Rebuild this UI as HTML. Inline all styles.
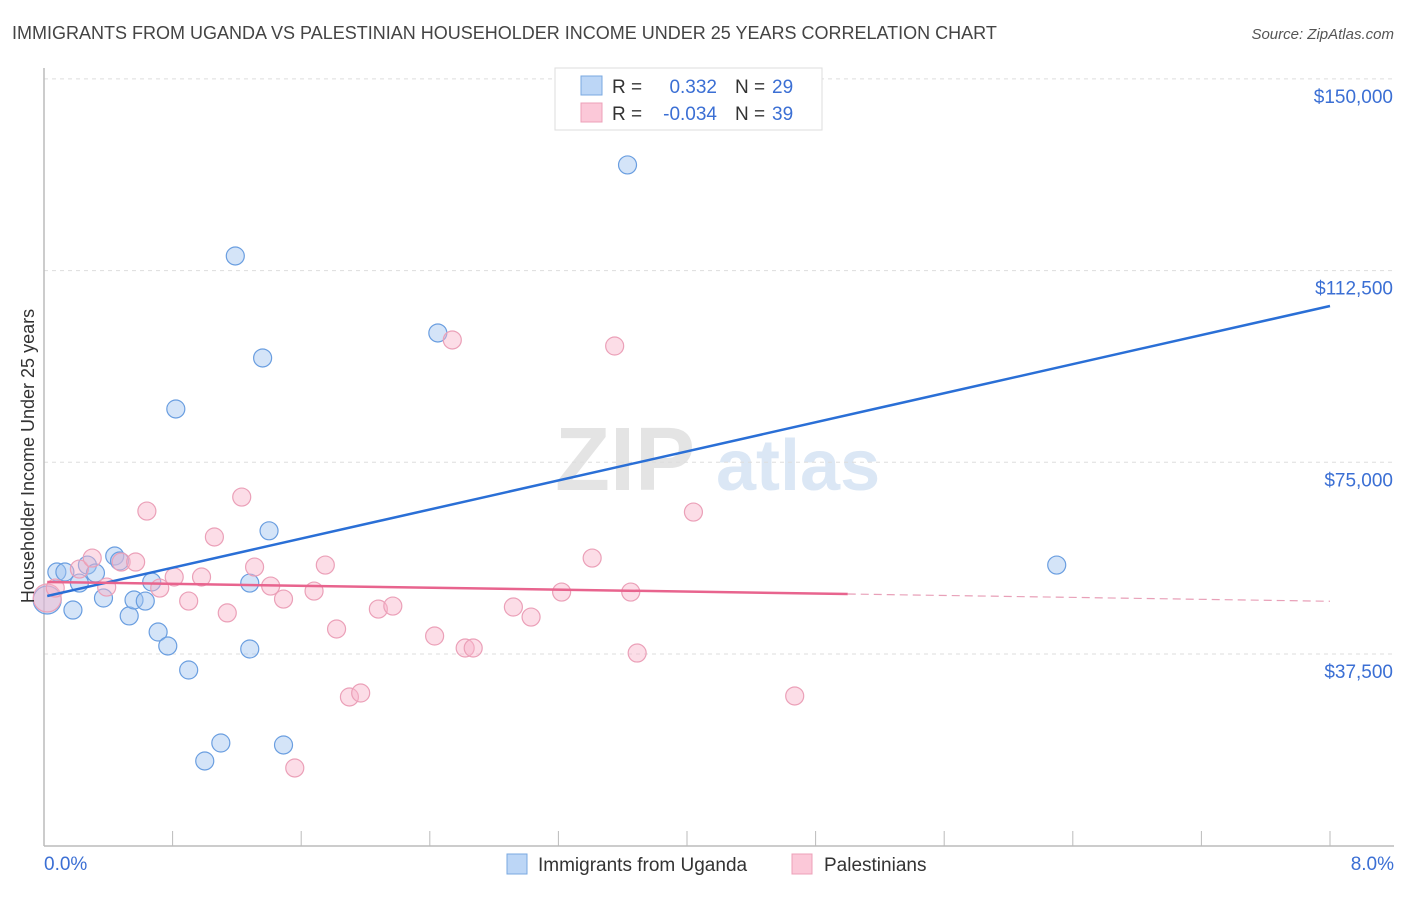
<!DOCTYPE html>
<html><head><meta charset="utf-8">
<style>
body{margin:0;background:#fff;font-family:"Liberation Sans",sans-serif;}
svg text{font-family:"Liberation Sans",sans-serif;}
</style></head>
<body>
<svg id="chart" width="1406" height="892" xmlns="http://www.w3.org/2000/svg">
<text x="12" y="39" font-size="18" fill="#444">IMMIGRANTS FROM UGANDA VS PALESTINIAN HOUSEHOLDER INCOME UNDER 25 YEARS CORRELATION CHART</text>
<text x="1394" y="39" font-size="15" fill="#555" font-style="italic" text-anchor="end">Source: ZipAtlas.com</text>
<g>
<text x="555" y="490" font-size="90" fill="#e4e4e4" font-family="Liberation Serif" font-weight="bold">ZIP</text>
<text x="716" y="490" font-size="72" fill="#dbe7f5" font-weight="bold">atlas</text>
</g>
<g id="grid"></g>
<g id="axes"></g>
<g id="marks"></g>
<g>
<rect x="555" y="68" width="267" height="62" fill="#fff" stroke="#ddd"/>
<rect x="581" y="76" width="21" height="19" fill="#bcd6f6" stroke="#7aa8e0"/>
<rect x="581" y="103" width="21" height="19" fill="#fbc8d8" stroke="#eca0b8"/>
<text x="612" y="93" font-size="19" fill="#333">R =</text>
<text x="717" y="93" font-size="19" fill="#3b6fd4" text-anchor="end">0.332</text>
<text x="735" y="93" font-size="19" fill="#333">N =</text>
<text x="772" y="93" font-size="19" fill="#3b6fd4">29</text>
<text x="612" y="120" font-size="19" fill="#333">R =</text>
<text x="717" y="120" font-size="19" fill="#3b6fd4" text-anchor="end">-0.034</text>
<text x="735" y="120" font-size="19" fill="#333">N =</text>
<text x="772" y="120" font-size="19" fill="#3b6fd4">39</text>
</g>
<g>
<rect x="507" y="854" width="20" height="20" fill="#bcd6f6" stroke="#7aa8e0"/>
<text x="538" y="871" font-size="19" fill="#333">Immigrants from Uganda</text>
<rect x="792" y="854" width="20" height="20" fill="#fbc8d8" stroke="#eca0b8"/>
<text x="824" y="871" font-size="19" fill="#333">Palestinians</text>
</g>
<text transform="translate(34,456) rotate(-90)" font-size="18" fill="#333" text-anchor="middle">Householder Income Under 25 years</text>
</svg>
<script>
const yTicks=[37500,75000,112500,150000];
const yTickLabels=["$37,500","$75,000","$112,500","$150,000"];
const xTickLabels=["0.0%","8.0%"];
const ugandaX=[0.02,0.08,0.13,0.18,0.22,0.27,0.32,0.37,0.44,0.47,0.53,0.56,0.63,0.67,0.71,0.77,0.82,0.90,1.00,1.10,1.19,1.28,1.28,1.36,1.40,1.49,2.45,3.63,6.30];
const ugandaY=[48060,53540,53540,46100,51380,54900,53340,48450,56670,55690,44950,48060,47860,51580,41800,39070,85430,34370,16570,20090,115360,51380,38480,95410,61600,19700,100300,133170,54900];
const palX=[0.02,0.07,0.22,0.30,0.39,0.48,0.57,0.64,0.72,0.81,0.90,0.98,1.06,1.14,1.23,1.31,1.41,1.49,1.56,1.68,1.75,1.82,1.90,1.97,2.08,2.17,2.43,2.54,2.62,2.67,2.92,3.03,3.22,3.41,3.55,3.65,3.69,4.04,4.67];
const palY=[48450,50400,54120,56270,50590,55490,55490,65460,50400,52560,47860,52560,60390,45540,68200,54510,50790,48250,15200,49810,54900,42390,29090,29870,46290,46880,41020,98930,38670,38670,46690,44730,49620,56270,97750,49620,37690,65270,29290];
const ugandaTrend=[48700,7110]; // intercept, slope per %
const palTrend=[51600,-473];
const palSolidEnd=5.0;

const X0=44,X1=1330,Y0=845.7,YPX=191.7/37500;
const sx=v=>X0+(v/8)*(X1-X0);
const sy=v=>Y0-v*YPX;
const NS="http://www.w3.org/2000/svg";
function mk(tag,attrs,parent){const e=document.createElementNS(NS,tag);for(const k in attrs)e.setAttribute(k,attrs[k]);parent.appendChild(e);return e;}
const grid=document.getElementById('grid'),axes=document.getElementById('axes'),marks=document.getElementById('marks');
yTicks.forEach((t,i)=>{
 const l=mk('line',{x1:X0,x2:1394,y1:sy(t),y2:sy(t),stroke:'#ddd','stroke-dasharray':'4,4'},grid);
 
 
 const tx=mk('text',{x:1393,y:sy(t)+24,'font-size':19,fill:'#3b6fd4','text-anchor':'end'},axes);
 tx.textContent=yTickLabels[i];
 
 
});
const ya=mk('line',{x1:X0,x2:X0,y1:68,y2:846,stroke:'#bbb','stroke-width':1.5},axes);


const xa=mk('line',{x1:X0,x2:1394,y1:846,y2:846,stroke:'#bbb','stroke-width':1.5},axes);


for(let i=1;i<=10;i++){
 const t=mk('line',{x1:sx(i*0.8),x2:sx(i*0.8),y1:831,y2:846,stroke:'#bbb'},axes);
 
 
}
const xl0=mk('text',{x:44,y:870,'font-size':19,fill:'#3b6fd4'},axes);
xl0.textContent=xTickLabels[0];


const xl1=mk('text',{x:1394,y:870,'font-size':19,fill:'#3b6fd4','text-anchor':'end'},axes);
xl1.textContent=xTickLabels[1];



ugandaX.forEach((x,i)=>{
 const c=mk('circle',{cx:sx(x),cy:sy(ugandaY[i]),r:i===0?14:9,fill:'rgba(160,196,240,0.45)',stroke:'#6a9ee0','stroke-width':1.2},marks);
 
 
});
palX.forEach((x,i)=>{
 const c=mk('circle',{cx:sx(x),cy:sy(palY[i]),r:i===0?14:9,fill:'rgba(248,180,202,0.45)',stroke:'#eba0b8','stroke-width':1.2},marks);
 
 
});
const ut=mk('line',{x1:sx(0.02),y1:sy(ugandaTrend[0]+ugandaTrend[1]*0.02),x2:sx(8),y2:sy(ugandaTrend[0]+ugandaTrend[1]*8),stroke:'#2a6fd6','stroke-width':2.5},marks);


const pt=mk('line',{x1:sx(0.02),y1:sy(palTrend[0]+palTrend[1]*0.02),x2:sx(palSolidEnd),y2:sy(palTrend[0]+palTrend[1]*palSolidEnd),stroke:'#e8648e','stroke-width':2.5},marks);


const pd=mk('line',{x1:sx(palSolidEnd),y1:sy(palTrend[0]+palTrend[1]*palSolidEnd),x2:sx(8),y2:sy(palTrend[0]+palTrend[1]*8),stroke:'#e8a0b8','stroke-width':1.2,'stroke-dasharray':'8,5'},marks);


</script>
</body></html>
